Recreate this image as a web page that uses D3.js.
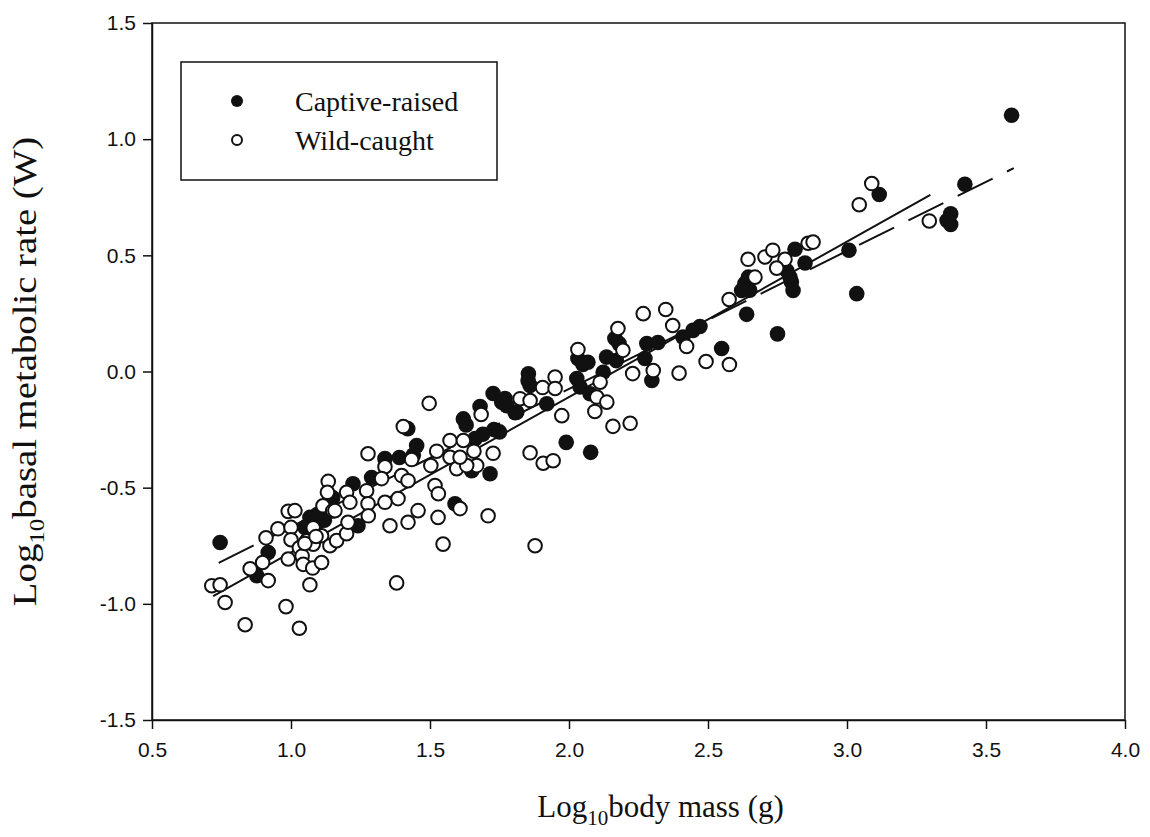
<!DOCTYPE html>
<html lang="en">
<head>
    <meta charset="UTF-8">
    <title>Basal metabolic rate vs body mass</title>
    <script src="https://d3js.org/d3.v7.min.js"></script>
    <style>
        body { margin: 0; background: #fff; }
        .serif { font-family: "Liberation Serif", "Times New Roman", serif; fill: #111; }
    </style>
</head>
<body>
    <div id="chart"></div>

    <script>
        // log10 body mass (g), log10 BMR (W)
        var captiveX = [0.745, 1.15, 1.094, 1.12, 0.918, 0.877, 1.068, 1.05, 1.09, 1.223, 1.14,
            1.42, 1.727, 1.77, 1.806, 1.68, 1.62, 1.63, 1.73, 1.69, 1.75, 1.452, 1.662, 1.338, 1.39,
            1.44, 1.65, 1.716, 1.29, 1.241, 1.59, 1.854, 1.86, 1.758, 1.92,
            2.446, 2.165, 2.18, 2.28, 2.32, 2.273, 2.032, 2.068, 2.05, 2.135, 2.17, 2.123, 2.298,
            1.853, 2.028, 2.04, 2.076, 1.812, 1.776, 1.99, 2.078,
            2.813, 2.849, 2.783, 2.795, 2.8, 2.806, 3.007, 3.035, 2.645, 2.633, 2.621, 2.65,
            2.639, 2.75, 2.471, 2.41, 2.549, 3.592, 3.116, 3.424, 3.373, 3.373, 3.36];
        var captiveY = [-0.736, -0.543, -0.616, -0.64, -0.779, -0.879, -0.628, -0.671, -0.66, -0.483, -0.54,
            -0.246, -0.095, -0.116, -0.177, -0.151, -0.204, -0.23, -0.25, -0.27, -0.26, -0.319, -0.289, -0.375, -0.37,
            -0.36, -0.427, -0.44, -0.456, -0.664, -0.569, -0.01, -0.06, -0.132, -0.139,
            0.177, 0.142, 0.12, 0.12, 0.125, 0.056, 0.056, 0.04, 0.03, 0.062, 0.047, -0.003, -0.039,
            -0.04, -0.03, -0.067, -0.096, -0.175, -0.147, -0.305, -0.348,
            0.526, 0.467, 0.435, 0.406, 0.385, 0.349, 0.522, 0.335, 0.406, 0.379, 0.349, 0.35,
            0.246, 0.162, 0.194, 0.148, 0.099, 1.103, 0.762, 0.806, 0.679, 0.633, 0.65];

        var wildX = [1.134, 1.131, 0.99, 1.014, 1.115, 0.953, 1.0, 1.08, 1.15, 0.91, 1.0, 1.056, 1.11,
            1.14, 1.08, 0.898, 0.853, 0.918, 0.99, 1.03, 1.04, 1.044, 1.078, 1.11, 1.068, 0.715, 0.745,
            0.763, 0.982, 0.835, 1.03, 1.164, 1.2, 1.05, 1.09,
            1.497, 1.404, 1.684, 1.277, 1.572, 1.62, 1.524, 1.572, 1.658, 1.727, 1.434, 1.338, 1.503,
            1.596, 1.668, 1.398, 1.421, 1.518, 1.326, 1.272, 1.385, 1.53, 1.2, 1.158, 1.212, 1.277,
            1.338, 1.278, 1.205, 1.356, 1.421, 1.457, 1.608, 1.529, 1.709, 1.547, 1.38, 1.632, 1.608,
            2.267, 2.348, 2.373, 2.176, 2.194, 2.423, 2.032, 2.229, 2.303, 2.396, 1.95, 2.112, 1.905,
            1.95, 2.1, 2.136, 2.093, 1.824, 1.86, 1.974, 2.158, 2.22, 1.86, 1.907, 1.943, 1.878,
            2.644, 2.705, 2.733, 2.86, 2.878, 2.777, 2.747, 2.669, 2.576, 2.493, 2.577,
            3.089, 3.044, 3.296];
        var wildY = [-0.473, -0.52, -0.602, -0.599, -0.578, -0.677, -0.671, -0.673, -0.6, -0.716, -0.724, -0.729, -0.707,
            -0.75, -0.743, -0.822, -0.849, -0.9, -0.807, -0.759, -0.794, -0.83, -0.846, -0.822, -0.918, -0.922, -0.918,
            -0.994, -1.012, -1.09, -1.105, -0.728, -0.698, -0.74, -0.71,
            -0.137, -0.237, -0.185, -0.354, -0.297, -0.297, -0.343, -0.369, -0.343, -0.352, -0.379, -0.41, -0.405,
            -0.418, -0.405, -0.448, -0.47, -0.491, -0.461, -0.513, -0.547, -0.526, -0.52, -0.599, -0.563, -0.569,
            -0.563, -0.621, -0.649, -0.664, -0.649, -0.599, -0.59, -0.628, -0.621, -0.743, -0.91, -0.405, -0.369,
            0.249, 0.267, 0.198, 0.185, 0.091, 0.108, 0.095, -0.009, 0.004, -0.007, -0.024, -0.046, -0.069,
            -0.073, -0.11, -0.132, -0.172, -0.117, -0.125, -0.19, -0.236, -0.223, -0.35, -0.395, -0.384, -0.75,
            0.483, 0.493, 0.522, 0.552, 0.557, 0.483, 0.445, 0.406, 0.31, 0.043, 0.03,
            0.809, 0.718, 0.648];

        // fitted lines: [slope, intercept, first x, last x]
        var wildFit = [0.669, -1.448, 0.72, 3.30];
        var captiveFit = [0.594, -1.263, 0.74, 3.60];

        var xTicks = [0.5, 1.0, 1.5, 2.0, 2.5, 3.0, 3.5, 4.0];
        var yTicks = [-1.5, -1.0, -0.5, 0.0, 0.5, 1.0, 1.5];

        var width = 1150, height = 837;
        var plotLeft = 152, plotRight = 1125, plotTop = 23, plotBottom = 720;

        var x = d3.scaleLinear().domain([0.5, 4.0]).range([plotLeft, plotRight]);
        var y = d3.scaleLinear().domain([-1.5, 1.5]).range([plotBottom, plotTop]);

        var svg = d3.select("#chart")
            .append("svg")
            .attr("width", width)
            .attr("height", height);

        // frame
        svg.append("rect")
            .attr("x", plotLeft).attr("y", plotTop)
            .attr("width", plotRight - plotLeft).attr("height", plotBottom - plotTop)
            .attr("fill", "none").attr("stroke", "#111").attr("stroke-width", 1.5);

        // plain hyphen for negatives, as in the original figure
        var fmt = d => d3.format(".1f")(d).replace("\u2212", "-");

        var xAxis = svg.append("g")
            .attr("transform", "translate(0," + plotBottom + ")")
            .call(d3.axisBottom(x).tickValues(xTicks).tickFormat(fmt).tickSize(9).tickSizeOuter(0));
        var yAxis = svg.append("g")
            .attr("transform", "translate(" + plotLeft + ",0)")
            .call(d3.axisLeft(y).tickValues(yTicks).tickFormat(fmt).tickSize(9).tickSizeOuter(0));
        [xAxis, yAxis].forEach(function(g) {
            g.select(".domain").attr("stroke", "#111").attr("stroke-width", 1.5);
            g.selectAll(".tick line").attr("stroke", "#111").attr("stroke-width", 1.5);
            g.selectAll(".tick text")
                .attr("font-family", "'Liberation Sans', Arial, sans-serif")
                .attr("font-size", 21)
                .attr("fill", "#111");
        });
        xAxis.selectAll(".tick text").attr("dy", "1.2em");
        yAxis.selectAll(".tick text").attr("x", -16);

        // regression lines
        function fitLine(f) {
            return [[f[2], f[0] * f[2] + f[1]], [f[3], f[0] * f[3] + f[1]]];
        }
        var line = d3.line().x(d => x(d[0])).y(d => y(d[1]));

        svg.append("path")
            .attr("d", line(fitLine(wildFit)))
            .attr("fill", "none").attr("stroke", "#111").attr("stroke-width", 2);
        svg.append("path")
            .attr("d", line(fitLine(captiveFit)))
            .attr("fill", "none").attr("stroke", "#111").attr("stroke-width", 2)
            .attr("stroke-dasharray", "39,16");

        // points
        var wild = wildX.map((v, i) => [v, wildY[i]]);
        var captive = captiveX.map((v, i) => [v, captiveY[i]]);

        svg.append("g").selectAll("circle")
            .data(captive)
            .enter().append("circle")
            .attr("cx", d => x(d[0])).attr("cy", d => y(d[1]))
            .attr("r", 7.8)
            .attr("fill", "#111");

        svg.append("g").selectAll("circle")
            .data(wild)
            .enter().append("circle")
            .attr("cx", d => x(d[0])).attr("cy", d => y(d[1]))
            .attr("r", 6.8)
            .attr("fill", "#fff").attr("stroke", "#111").attr("stroke-width", 2);

        // legend
        var legend = svg.append("g");
        legend.append("rect")
            .attr("x", 181).attr("y", 62).attr("width", 316).attr("height", 118)
            .attr("fill", "#fff").attr("stroke", "#111").attr("stroke-width", 1.5);
        var legendItems = ["Captive-raised", "Wild-caught"];
        legendItems.forEach(function(name, i) {
            var cy = 101 + i * 39;
            legend.append("circle")
                .attr("cx", 237).attr("cy", cy).attr("r", i === 0 ? 6 : 5)
                .attr("fill", i === 0 ? "#111" : "#fff")
                .attr("stroke", "#111").attr("stroke-width", i === 0 ? 0 : 2);
            legend.append("text")
                .attr("class", "serif")
                .attr("x", 295).attr("y", cy + 10)
                .attr("font-size", 28)
                .text(name);
        });

        // axis titles
        var xt = svg.append("text")
            .attr("class", "serif")
            .attr("x", (plotLeft + plotRight) / 2 + 22).attr("y", 817)
            .attr("text-anchor", "middle")
            .attr("font-size", 31);
        xt.append("tspan").text("Log");
        xt.append("tspan").attr("dy", 8).attr("font-size", 21).text("10");
        xt.append("tspan").attr("dy", -8).text("body mass (g)");

        // the scanned y title runs longer than the x title, so stretch it a little
        var yt = svg.append("text")
            .attr("class", "serif")
            .attr("transform", "translate(36," + ((plotTop + plotBottom) / 2) + ") rotate(-90) scale(1.14,1)")
            .attr("text-anchor", "middle")
            .attr("font-size", 34);
        yt.append("tspan").text("Log");
        yt.append("tspan").attr("dy", 8).attr("font-size", 22).text("10");
        yt.append("tspan").attr("dy", -8).text("basal metabolic rate (W)");
    </script>
</body>
</html>
